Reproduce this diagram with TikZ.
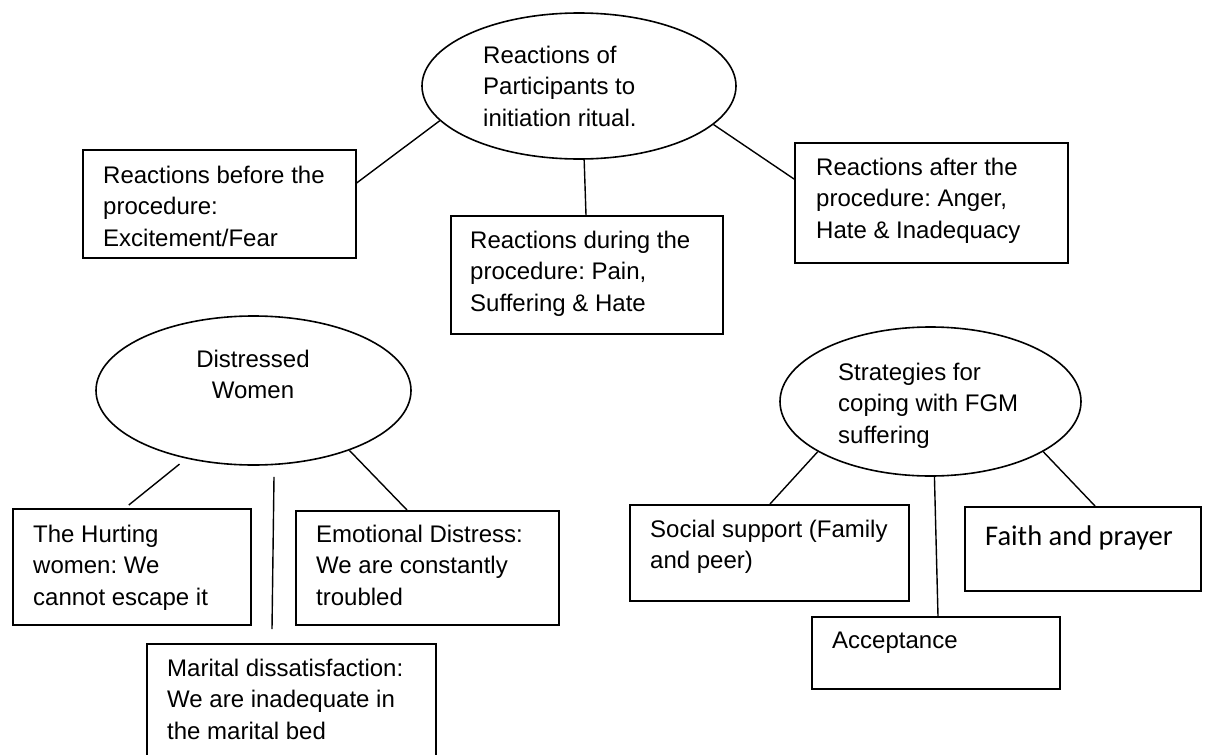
\documentclass[tikz,border=0pt]{standalone}
\usepackage{fontspec}
\setmainfont{Liberation Sans}
\newfontfamily\faithfont{Carlito}
\usetikzlibrary{shapes.geometric,calc}
\frenchspacing

% multi-line labels whose reference point is the first baseline
\newcommand\leftlines[1]{\vtop{\baselineskip=31.7pt\lineskiplimit=-100pt\lineskip=0pt\halign{##\hfil\cr#1\crcr}}}
\newcommand\midlines[1]{\vtop{\baselineskip=31.7pt\lineskiplimit=-100pt\lineskip=0pt\halign{\hfil##\hfil\cr#1\crcr}}}

\tikzset{
  box/.style={draw, rectangle, line width=1.6pt, inner sep=0pt, anchor=north west},
  oval/.style={draw, ellipse, line width=1.6pt, inner sep=0pt},
  txt/.style={inner sep=0pt, anchor=base west, font=\fontsize{24pt}{31.7pt}\selectfont},
  ctxt/.style={txt, anchor=base},
  link/.style={line width=1.4pt},
}

\begin{document}
\begin{tikzpicture}[x=1pt, y=-1pt]
\useasboundingbox (0,0) rectangle (1208,755);
\clip (0,0) rectangle (1208,755);

% ---------- Reactions of participants ----------
\node[oval, minimum width=314pt, minimum height=146pt] (te) at (579,86) {};
\node[txt] (tet) at (483,63) {\leftlines{Reactions of\cr Participants to\cr initiation ritual.}};

\node[box, minimum width=273pt, minimum height=108pt] (b1) at (82,149) {};
\node[txt] (b1t) at (103,183) {\leftlines{Reactions before the\cr procedure:\cr Excitement/Fear}};

\node[box, minimum width=272pt, minimum height=118pt] (b2) at (450,215) {};
\node[txt] (b2t) at (470,248) {\leftlines{Reactions during the\cr procedure: Pain,\cr Suffering \& Hate}};

\node[box, minimum width=273pt, minimum height=120pt] (b3) at (794,142) {};
\node[txt] (b3t) at (816,175) {\leftlines{Reactions after the\cr procedure: Anger,\cr Hate \& Inadequacy}};

\draw[link] (te.194.5) -- ($(b1.north east)+(0,34)$);
\draw[link] (te.-86) -- ($(b2.north west)+(136,0)$);
\draw[link] (te.-16.2) -- ($(b3.north west)+(0,37)$);

% ---------- Distressed women ----------
\node[oval, minimum width=315pt, minimum height=149pt] (de) at (253.5,390.5) {};
\node[ctxt] (det) at (253,367) {\midlines{Distressed\cr Women}};

\node[box, minimum width=238pt, minimum height=116pt] (b4) at (12,508) {};
\node[txt] (b4t) at (33,542) {\leftlines{The Hurting\cr women: We\cr cannot escape it}};

\node[box, minimum width=263pt, minimum height=114pt] (b5) at (295,510) {};
\node[txt] (b5t) at (316,542) {\leftlines{Emotional Distress:\cr We are constantly\cr troubled}};

\node[box, minimum width=289pt, minimum height=140pt] (b6) at (146,643) {};
\node[txt] (b6t) at (167,676) {\leftlines{Marital dissatisfaction:\cr We are inadequate in\cr the marital bed}};

\draw[link] ($(de.-138.4)+(0,7)$) -- ($(b4.north)+(-3,-3)$);
\draw[link] ($(de.south)+(20.5,11)$) -- ($(b6.north west)+(126,-14)$);
\draw[link] (de.-32) -- ($(b5.north west)+(112,0)$);

% ---------- Coping strategies ----------
\node[oval, minimum width=301pt, minimum height=149pt] (se) at (930.5,401.5) {};
\node[txt] (set) at (838,380) {\leftlines{Strategies for\cr coping with FGM\cr suffering}};

\node[box, minimum width=279pt, minimum height=96pt] (b7) at (629,504) {};
\node[txt] (b7t) at (650,537) {\leftlines{Social support (Family\cr and peer)}};

\node[box, minimum width=236pt, minimum height=84pt] (b8) at (964,506) {};
\node[txt, font=\faithfont\fontsize{28.5pt}{34pt}\selectfont] (b8t) at (985,545) {Faith and prayer};

\node[box, minimum width=248pt, minimum height=72pt] (b9) at (811,616) {};
\node[txt] (b9t) at (832,648) {Acceptance};

\draw[link] (se.-156.7) -- ($(b7.north west)+(141,0)$);
\draw[link] (se.-87.3) -- ($(b9.north west)+(127,0)$);
\draw[link] (se.-24.4) -- ($(b8.north west)+(131,0)$);
\end{tikzpicture}
\end{document}
